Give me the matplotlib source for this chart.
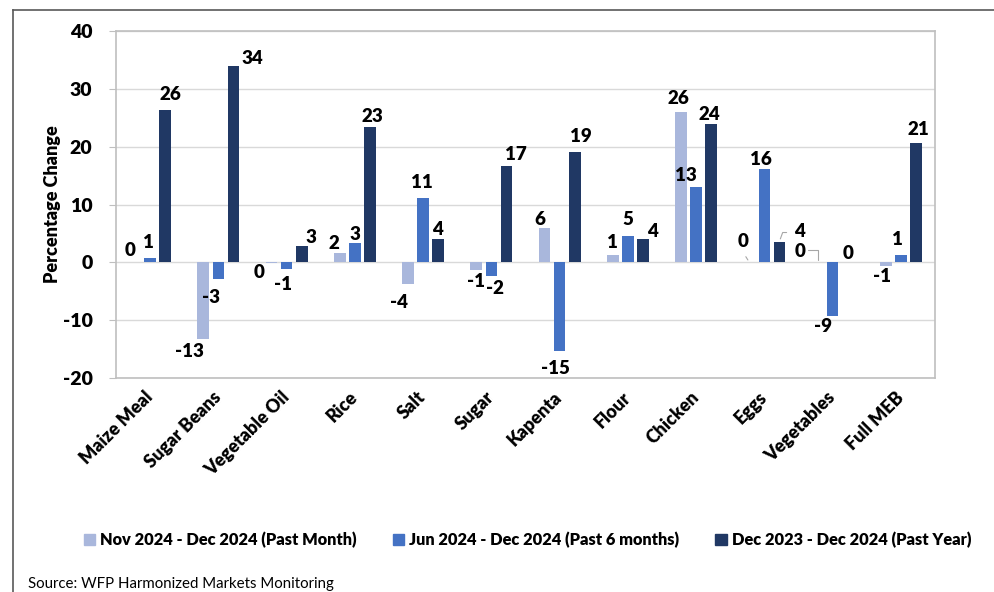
import matplotlib
matplotlib.use("Agg")
import matplotlib.pyplot as plt
import numpy as np
from matplotlib.patches import Rectangle
from matplotlib.lines import Line2D

plt.rcParams['font.family'] = ['Lato', 'DejaVu Sans']
W = 'heavy'

categories = ["Maize Meal", "Sugar Beans", "Vegetable Oil", "Rice", "Salt", "Sugar",
              "Kapenta", "Flour", "Chicken", "Eggs", "Vegetables", "Full MEB"]
past_month = [0.0, -13.2, -0.1, 1.6, -3.7, -1.3, 5.9, 1.2, 26.0, 0.0, 0.0, -0.7]
past_6_months = [0.8, -2.8, -1.1, 3.4, 11.2, -2.3, -15.4, 4.6, 13.0, 16.1, -9.2, 1.2]
past_year = [26.4, 33.9, 2.9, 23.4, 4.0, 16.6, 19.0, 4.0, 23.9, 3.6, 0.0, 20.6]
series_names = ["Nov 2024 - Dec 2024 (Past Month)",
                "Jun 2024 - Dec 2024 (Past 6 months)",
                "Dec 2023 - Dec 2024 (Past Year)"]
colors = ["#A9B7DC", "#4472C4", "#203864"]

# label offsets in pixels (dx, dy) relative to bar end, per series
label_offsets = [
    [(-5, 12), (-14, -13), (-13, -10), (-6, 10), (-9, -19), (0, -12),
     (-5, 9), (0, 13), (-3, 13), (-6, 21), (-18, 11), (-4, -10)],
    [(-2, 15), (-7, -19), (-4, -16), (0, 8), (-1, 15), (4, -13),
     (-4, -17), (0, 16), (-10, 12), (-3, 10), (-10, -11), (-3, 16)],
    [(5, 15), (19, 8), (9, 8), (2, 11), (-1, 10), (9, 12),
     (6, 16), (10, 8), (-2, 10), (20, 10), (0, 9), (2, 14)],
]

fig = plt.figure(figsize=(9.95, 5.92), dpi=100)
ax = fig.add_axes([116/995, 1 - 378/592, (935-116)/995, (378-31)/592])

x = np.arange(len(categories))
width = 0.172
step = 0.22
all_series = [past_month, past_6_months, past_year]
for i, (vals, col, name) in enumerate(zip(all_series, colors, series_names)):
    pos = x + (i - 1) * step
    ax.bar(pos, vals, width=width, color=col, label=name, zorder=3)
    for j, (p, v) in enumerate(zip(pos, vals)):
        dx, dy = label_offsets[i][j]
        ax.annotate(f"{round(v):d}", xy=(p, v), xytext=(dx, dy),
                    textcoords='offset pixels', ha='center', va='center',
                    fontsize=13.5, fontweight=W, color='black', zorder=5)

# leader lines (Eggs past month, Eggs past year, Vegetables past month)
ax.annotate("", xy=(9 - step, 0), xytext=(-5, 8), textcoords='offset pixels',
            arrowprops=dict(arrowstyle='-', color='#A6A6A6', lw=0.8))
ax.annotate("", xy=(9 + step, past_year[9]), xytext=(10, 9), textcoords='offset pixels',
            arrowprops=dict(arrowstyle='-', color='#A6A6A6', lw=0.8,
                            connectionstyle='angle,angleA=0,angleB=70,rad=0'))
ax.annotate("", xy=(10 - step, 0), xytext=(-12, 12), textcoords='offset pixels',
            arrowprops=dict(arrowstyle='-', color='#A6A6A6', lw=0.8,
                            connectionstyle='angle,angleA=0,angleB=90,rad=0'))

ax.set_xlim(-0.5, len(categories) - 0.5)
ax.set_ylim(-20, 40)
ax.set_yticks(np.arange(-20, 41, 10))
ax.set_yticklabels([str(t) for t in range(-20, 41, 10)], fontsize=14, fontweight=W)
ax.yaxis.grid(True, color='#D9D9D9', lw=1, zorder=0)
ax.set_axisbelow(True)
ax.tick_params(axis='y', length=5, color='#BFBFBF', pad=12)
ax.tick_params(axis='x', length=0, pad=12)
ax.set_xticks(x)
ax.set_xticklabels(categories, rotation=45, ha='right', va='center',
                   rotation_mode='anchor', fontsize=13, fontweight=W)
for s in ax.spines.values():
    s.set_color('#BFBFBF')
    s.set_linewidth(1.2)
ax.set_ylabel("Percentage Change", fontsize=13, fontweight=W, labelpad=1)

handles = [Rectangle((0, 0), 1, 1, color=c) for c in colors]
fig.legend(handles, series_names, loc='center', bbox_to_anchor=(0.53, 1 - 540/592),
           ncol=3, frameon=False, handlelength=0.7, handleheight=0.7,
           handletextpad=0.3, columnspacing=2.2, prop={'weight': W, 'size': 11.8})

fig.text(28/995, 1 - 584/592, "Source: WFP Harmonized Markets Monitoring",
         fontsize=10.8, va='center', ha='left')

# outer frame
fig.add_artist(Line2D([13/995, 13/995], [0, 1 - 10/592], transform=fig.transFigure,
                      color='#595959', lw=1.2))
fig.add_artist(Line2D([13/995, 1], [1 - 10/592, 1 - 10/592], transform=fig.transFigure,
                      color='#595959', lw=1.2))

fig.savefig("out.png", dpi=100)
